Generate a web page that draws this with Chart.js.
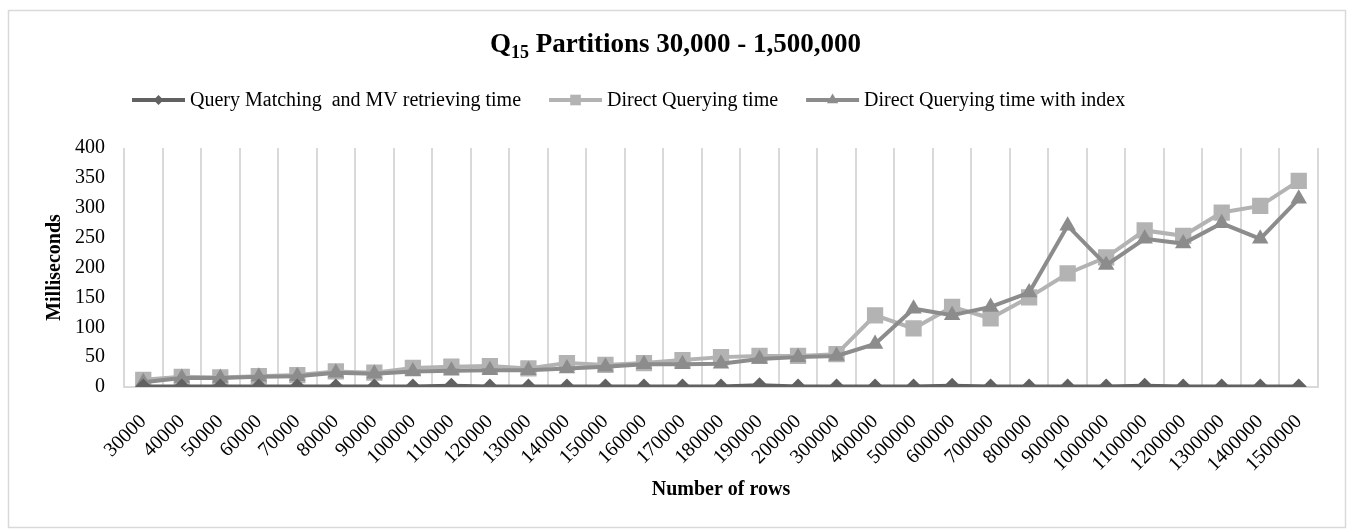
<!DOCTYPE html>
<html>
<head>
<meta charset="utf-8">
<script src="https://cdn.jsdelivr.net/npm/chart.js@4.4.0/dist/chart.umd.min.js"></script>
<style>
  html, body { margin: 0; padding: 0; background: #fff; }
  #wrap { position: relative; width: 1351px; height: 531px; }
</style>
</head>
<body>
<div id="wrap"><canvas id="chart" width="1351" height="531"></canvas></div>
<script>
// data
const categories = ['30000', '40000', '50000', '60000', '70000', '80000', '90000', '100000',
  '110000', '120000', '130000', '140000', '150000', '160000', '170000', '180000', '190000',
  '200000', '300000', '400000', '500000', '600000', '700000', '800000', '900000', '1000000',
  '1100000', '1200000', '1300000', '1400000', '1500000'];
const matchingTime = [1, 1, 1, 1, 1, 1, 1, 1, 2, 1, 1, 1, 1, 1, 1, 1, 3, 1, 1, 1, 1, 2, 1, 1, 1, 1, 2, 1, 1, 1, 1];
const directTime = [12, 17, 16, 18, 20, 26, 24, 32, 34, 35, 31, 40, 37, 40, 45, 50, 52, 52, 55,
  120, 98, 134, 115, 150, 190, 217, 262, 253, 292, 303, 345];
const indexTime = [8, 15, 15, 17, 18, 24, 22, 26, 27, 28, 28, 31, 34, 38, 38, 39, 47, 50, 52,
  72, 131, 120, 134, 158, 270, 204, 248, 240, 274, 248, 315];
const yTickValues = [0, 50, 100, 150, 200, 250, 300, 350, 400];

const seriesNames = ['Query Matching  and MV retrieving time', 'Direct Querying time', 'Direct Querying time with index'];
const titleParts = ['Q', '15', ' Partitions 30,000 - 1,500,000'];

const SERIF = '"Liberation Serif", "Times New Roman", serif';

// marker shapes for the custom legend
function drawMarker(ctx, style, x, y, r) {
  ctx.beginPath();
  if (style === 'rectRot') {
    ctx.moveTo(x - r, y); ctx.lineTo(x, y - r); ctx.lineTo(x + r, y); ctx.lineTo(x, y + r);
  } else if (style === 'rect') {
    const s = r * Math.SQRT1_2;
    ctx.rect(x - s, y - s, 2 * s, 2 * s);
  } else {
    ctx.moveTo(x, y - r);
    ctx.lineTo(x + r * 0.866, y + r / 2);
    ctx.lineTo(x - r * 0.866, y + r / 2);
  }
  ctx.closePath();
  ctx.fill();
}

const frame = {
  id: 'frame',
  beforeDraw(chart) {
    const ctx = chart.ctx;
    ctx.save();
    ctx.fillStyle = '#fff';
    ctx.fillRect(0, 0, chart.width, chart.height);
    ctx.strokeStyle = '#d9d9d9';
    ctx.lineWidth = 1.5;
    ctx.strokeRect(8.5, 10.5, 1337, 517);
    ctx.restore();
  },
  afterDraw(chart) {
    const ctx = chart.ctx;
    ctx.save();
    // title with subscript
    const big = 'bold 27px ' + SERIF, small = 'bold 18px ' + SERIF;
    ctx.font = big;
    const w0 = ctx.measureText(titleParts[0]).width;
    const w2 = ctx.measureText(titleParts[2]).width;
    ctx.font = small;
    const w1 = ctx.measureText(titleParts[1]).width;
    let x = chart.width / 2 - (w0 + w1 + w2) / 2;
    const base = 52;
    ctx.fillStyle = '#000';
    ctx.textBaseline = 'alphabetic';
    ctx.font = big; ctx.fillText(titleParts[0], x, base); x += w0;
    ctx.font = small; ctx.fillText(titleParts[1], x, base + 6); x += w1;
    ctx.font = big; ctx.fillText(titleParts[2], x, base);

    // legend, Excel style: line with marker in the middle
    ctx.font = '20px ' + SERIF;
    ctx.textBaseline = 'middle';
    let lx = 132;
    const ly = 100;
    chart.data.datasets.forEach(ds => {
      ctx.strokeStyle = ds.borderColor;
      ctx.lineWidth = ds.borderWidth;
      ctx.beginPath(); ctx.moveTo(lx, ly); ctx.lineTo(lx + 53, ly); ctx.stroke();
      ctx.fillStyle = ds.pointBackgroundColor;
      drawMarker(ctx, ds.pointStyle, lx + 26.5, ly, ds.legendRadius);
      ctx.fillStyle = '#000';
      ctx.fillText(ds.label, lx + 58, ly + 1);
      lx += 58 + ctx.measureText(ds.label).width + 28;
    });
    ctx.restore();
  }
};

new Chart(document.getElementById('chart'), {
  type: 'line',
  data: {
    labels: categories,
    datasets: [
      {
        label: seriesNames[0],
        data: matchingTime,
        borderColor: '#616161',
        backgroundColor: '#616161',
        pointBackgroundColor: '#616161',
        borderWidth: 4,
        pointStyle: 'rectRot',
        pointRadius: 8,
        pointBorderWidth: 0,
        legendRadius: 5,
        order: 0
      },
      {
        label: seriesNames[1],
        data: directTime,
        borderColor: '#b3b3b3',
        backgroundColor: '#b3b3b3',
        pointBackgroundColor: '#b3b3b3',
        borderWidth: 4,
        pointStyle: 'rect',
        pointRadius: 11.5,
        pointBorderWidth: 0,
        legendRadius: 7.5,
        order: 2
      },
      {
        label: seriesNames[2],
        data: indexTime,
        borderColor: '#8c8c8c',
        backgroundColor: '#8c8c8c',
        pointBackgroundColor: '#8c8c8c',
        borderWidth: 4,
        pointStyle: 'triangle',
        pointRadius: 9.5,
        pointBorderWidth: 0,
        legendRadius: 6.5,
        order: 1
      }
    ]
  },
  options: {
    responsive: false,
    animation: false,
    layout: { padding: { left: 30, right: 33, top: 148, bottom: 20 } },
    plugins: {
      legend: { display: false },
      title: { display: false },
      tooltip: { enabled: false }
    },
    elements: { line: { tension: 0 } },
    scales: {
      x: {
        offset: true,
        afterFit: scale => { scale.height = 124; },
        grid: { offset: true, color: '#d9d9d9', lineWidth: 2, drawTicks: false },
        border: { display: true, color: '#d9d9d9', width: 2 },
        ticks: {
          autoSkip: false, minRotation: 45, maxRotation: 45, padding: 23,
          color: '#000', font: { family: SERIF, size: 20 }
        },
        title: {
          display: true, text: 'Number of rows', color: '#000',
          font: { family: SERIF, size: 20, weight: 'bold' },
          padding: { top: 12, bottom: 9 }
        }
      },
      y: {
        min: 0, max: 400,
        afterFit: scale => { scale.width = 94; },
        afterBuildTicks: scale => { scale.ticks = yTickValues.map(v => ({ value: v })); },
        grid: { display: false, drawTicks: false },
        border: { display: false },
        ticks: { padding: 19, color: '#000', font: { family: SERIF, size: 20 } },
        title: {
          display: true, text: 'Milliseconds', color: '#000',
          font: { family: SERIF, size: 20, weight: 'bold' },
          padding: { top: 13, bottom: 8 }
        }
      }
    }
  },
  plugins: [frame]
});
</script>
</body>
</html>
